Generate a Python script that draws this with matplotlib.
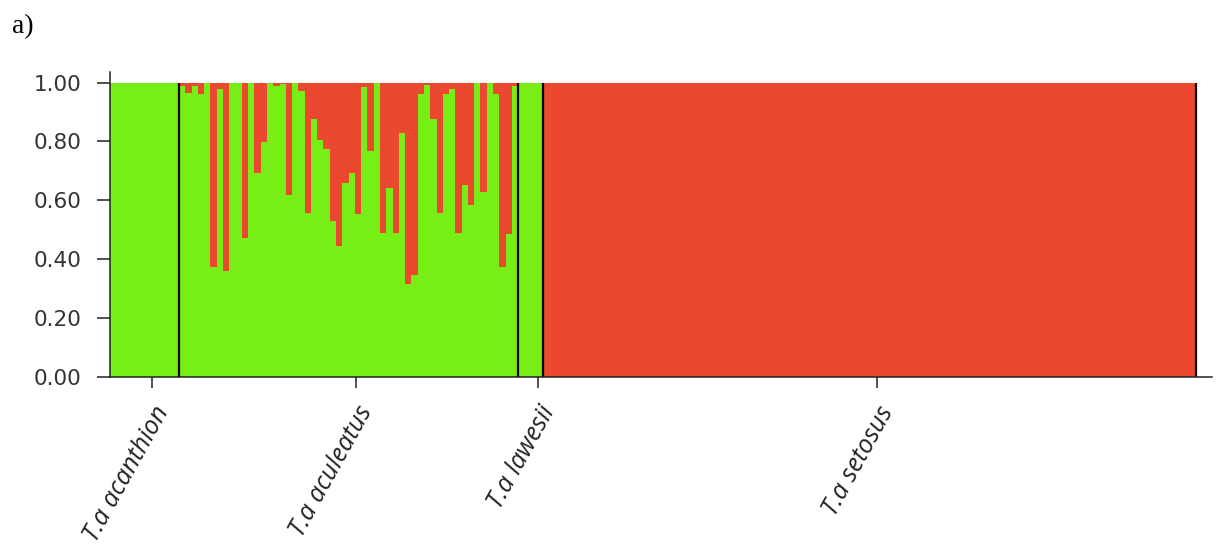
import matplotlib
matplotlib.use("Agg")
import matplotlib.pyplot as plt
import numpy as np

# Population labels and the number of individuals in each
groups = ["T.a acanthion", "T.a aculeatus", "T.a lawesii", "T.a setosus"]

# Membership in the green cluster (the remainder belongs to the red cluster)
acanthion_q = [1.0] * 11
aculeatus_q = [0.99, 0.966, 0.99, 0.96, 1.0, 0.374, 0.977, 0.36, 1.0, 1.0,
               0.473, 1.0, 0.694, 0.798, 1.0, 0.989, 0.994, 0.617, 1.0, 0.972,
               0.558, 0.878, 0.804, 0.773, 0.53, 0.445, 0.66, 0.694, 0.552, 0.985,
               0.768, 1.0, 0.49, 0.643, 0.49, 0.83, 0.316, 0.346, 0.96, 0.992,
               0.878, 0.558, 0.96, 0.977, 0.49, 0.652, 0.583, 1.0, 0.629, 1.0,
               0.962, 0.374, 0.486, 0.99]
lawesii_q = [1.0] * 4
setosus_q = [0.0] * 104

yticks = [0.0, 0.2, 0.4, 0.6, 0.8, 1.0]

GREEN = "#77EE15"
RED = "#EC4830"

group_q = [acanthion_q, aculeatus_q, lawesii_q, setosus_q]
q = np.concatenate([np.asarray(g, dtype=float) for g in group_q])
n = len(q)
x = np.arange(n)

fig = plt.figure(figsize=(12.19, 5.5), dpi=100)
ax = fig.add_axes([110 / 1219, 1 - 377 / 550, 1102 / 1219, 305 / 550])

ax.bar(x, q, width=1.0, align="edge", color=GREEN, linewidth=0)
ax.bar(x, 1 - q, bottom=q, width=1.0, align="edge", color=RED, linewidth=0)

# Group separators
sizes = [len(g) for g in group_q]
edges = np.cumsum(sizes)
ax.vlines(edges, 0, 1, color="black", linewidth=1.6)

ax.set_xlim(0, n + 2.5)
ax.set_ylim(0, 1.036)

# Group ticks near the centre of each block
starts = edges - np.array(sizes)
centers = (starts + edges) / 2 + 1.2
ax.set_xticks(centers)
ax.set_xticklabels(groups, rotation=61, ha="right", va="top",
                   rotation_mode="anchor", fontstyle="italic",
                   fontsize=18, family=["Open Sans", "DejaVu Sans"],
                   color="#222222")
ax.set_yticks(yticks)
ax.set_yticklabels([f"{v:.2f}" for v in yticks], fontsize=15.5,
                   color="#333333", family="DejaVu Sans")

ax.tick_params(axis="y", length=9.5, width=1.1, pad=11, color="#222222")
ax.tick_params(axis="x", length=8, width=1.1, pad=10, color="#222222")

for side in ("top", "right"):
    ax.spines[side].set_visible(False)
for side in ("left", "bottom"):
    ax.spines[side].set_linewidth(1.1)
    ax.spines[side].set_color("#222222")

fig.text(12 / 1219, 1 - 33 / 550, "a)", fontsize=20,
         family=["Liberation Serif", "DejaVu Serif"], color="black")

fig.savefig("out.png", dpi=100)
